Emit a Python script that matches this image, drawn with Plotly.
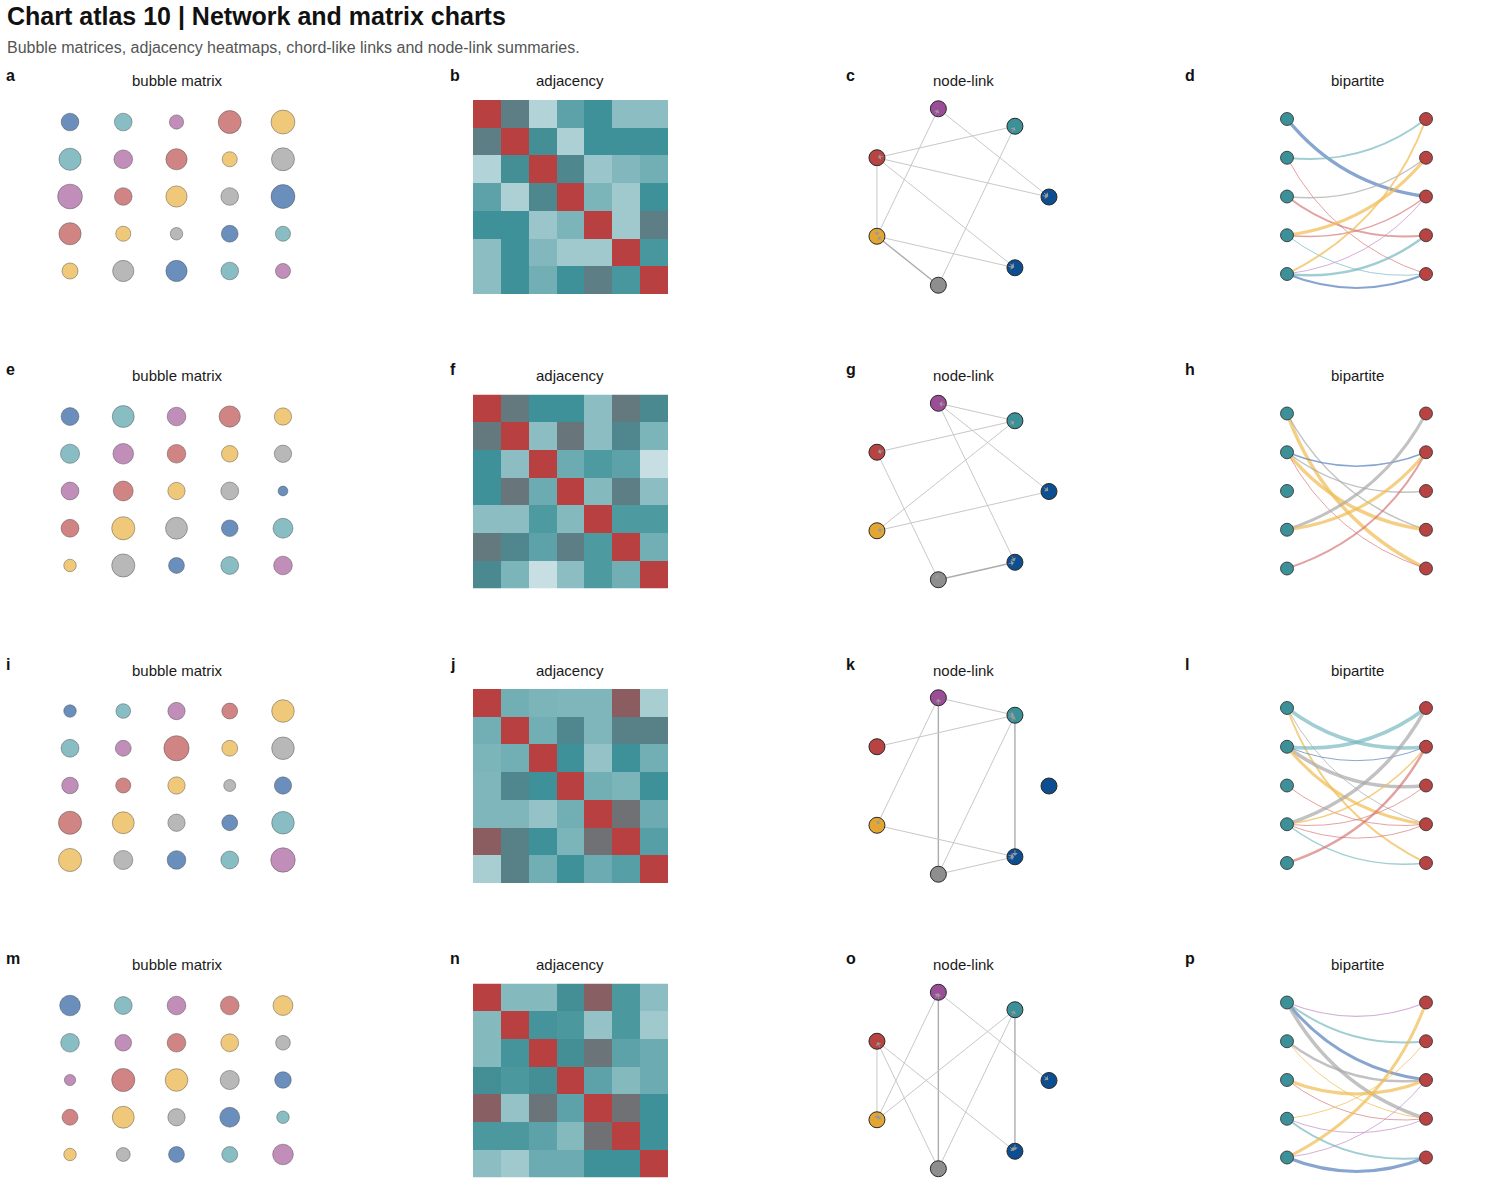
import math
import plotly.graph_objects as go

W, H = 1500, 1183
ROW_STEP = 294.5
FONT = "Liberation Sans, Arial, Helvetica, sans-serif"

# ------------------------------------------------------------------ data
title_text = "Chart atlas 10 | Network and matrix charts"
subtitle_text = "Bubble matrices, adjacency heatmaps, chord-like links and node-link summaries."
panel_letters = [["a", "b", "c", "d"], ["e", "f", "g", "h"],
                 ["i", "j", "k", "l"], ["m", "n", "o", "p"]]
panel_titles = ["bubble matrix", "adjacency", "node-link", "bipartite"]

bubble_palette = ["#6a8fbd", "#88bdc4", "#c18db9", "#d08584", "#f0c87a", "#b8b8b8"]
edge_palette = ["rgba(90,130,190,0.72)", "rgba(120,185,193,0.7)", "rgba(190,130,196,0.65)",
                "rgba(212,112,112,0.65)", "rgba(240,188,85,0.72)", "rgba(168,168,168,0.7)"]
node_palette = ["#0d4e91", "#3c9199", "#9b4e97", "#b84343", "#e3a633", "#8e8e8e", "#0d4e91"]

# bubble matrices (5x5 values, area-scaled)
bubble_a = [[0.52, 0.52, 0.34, 0.88, 0.95],
            [0.82, 0.58, 0.75, 0.38, 0.88],
            [1.02, 0.52, 0.75, 0.52, 0.95],
            [0.82, 0.38, 0.26, 0.47, 0.38],
            [0.43, 0.75, 0.75, 0.52, 0.38]]
bubble_e = [[0.53, 0.80, 0.58, 0.75, 0.50],
            [0.61, 0.71, 0.58, 0.46, 0.50],
            [0.53, 0.66, 0.50, 0.53, 0.16],
            [0.53, 0.89, 0.80, 0.46, 0.66],
            [0.26, 0.89, 0.42, 0.53, 0.58]]
bubble_i = [[0.26, 0.36, 0.50, 0.42, 0.85],
            [0.53, 0.42, 1.06, 0.42, 0.85],
            [0.46, 0.38, 0.50, 0.24, 0.50],
            [0.89, 0.80, 0.50, 0.42, 0.85],
            [0.89, 0.61, 0.58, 0.53, 1.00]]
bubble_m = [[0.71, 0.53, 0.58, 0.58, 0.66],
            [0.58, 0.46, 0.58, 0.53, 0.36],
            [0.21, 0.89, 0.85, 0.61, 0.46],
            [0.42, 0.80, 0.50, 0.66, 0.26],
            [0.26, 0.32, 0.42, 0.42, 0.71]]

# adjacency matrices (7x7, symmetric, diagonal = 1)
adj_b = [[1, 0.62, 0.12, 0.40, 0.50, 0.25, 0.25],
         [0.62, 1, 0.52, 0.14, 0.50, 0.50, 0.50],
         [0.12, 0.52, 1, 0.56, 0.20, 0.28, 0.33],
         [0.40, 0.14, 0.56, 1, 0.30, 0.18, 0.50],
         [0.50, 0.50, 0.20, 0.30, 1, 0.18, 0.62],
         [0.25, 0.50, 0.28, 0.18, 0.18, 1, 0.47],
         [0.25, 0.50, 0.33, 0.50, 0.62, 0.47, 1]]
adj_f = [[1, 0.65, 0.50, 0.50, 0.25, 0.65, 0.55],
         [0.65, 1, 0.25, 0.67, 0.25, 0.57, 0.30],
         [0.50, 0.25, 1, 0.35, 0.45, 0.40, 0.05],
         [0.50, 0.67, 0.35, 1, 0.27, 0.62, 0.25],
         [0.25, 0.25, 0.45, 0.27, 1, 0.45, 0.45],
         [0.65, 0.57, 0.40, 0.62, 0.45, 1, 0.33],
         [0.55, 0.30, 0.05, 0.25, 0.45, 0.33, 1]]
adj_j = [[1, 0.33, 0.30, 0.29, 0.29, 0.82, 0.15],
         [0.33, 1, 0.33, 0.57, 0.29, 0.60, 0.60],
         [0.30, 0.33, 1, 0.50, 0.22, 0.50, 0.33],
         [0.29, 0.57, 0.50, 1, 0.33, 0.30, 0.50],
         [0.29, 0.29, 0.22, 0.33, 1, 0.70, 0.35],
         [0.82, 0.60, 0.50, 0.30, 0.70, 1, 0.42],
         [0.15, 0.60, 0.33, 0.50, 0.35, 0.42, 1]]
adj_n = [[1, 0.27, 0.27, 0.52, 0.80, 0.46, 0.25],
         [0.27, 1, 0.48, 0.46, 0.22, 0.46, 0.18],
         [0.27, 0.48, 1, 0.52, 0.68, 0.40, 0.35],
         [0.52, 0.46, 0.52, 1, 0.40, 0.27, 0.35],
         [0.80, 0.22, 0.68, 0.40, 1, 0.70, 0.50],
         [0.46, 0.46, 0.40, 0.27, 0.70, 1, 0.50],
         [0.25, 0.18, 0.35, 0.35, 0.50, 0.50, 1]]
adj_colorscale = [[0.0, "#d6e8ea"], [0.5, "#3f9199"], [1.0, "#b84040"]]

# node-link graphs: 7 nodes on a circle, edges (source, target, weight)
n_nodes = 7
edges_c = [(4, 2, 1), (1, 3, 1), (2, 0, 1), (3, 0, 1), (3, 6, 1), (3, 4, 1), (4, 6, 1), (5, 4, 2), (5, 1, 1)]
edges_g = [(1, 2, 1), (1, 3, 1), (4, 1, 1), (2, 0, 1), (2, 6, 1), (3, 5, 1), (0, 4, 1), (5, 6, 2)]
edges_k = [(2, 1, 1), (2, 4, 1), (5, 2, 2), (3, 1, 1), (5, 1, 1), (1, 6, 2), (4, 6, 1), (5, 6, 1)]
edges_o = [(4, 2, 1), (5, 2, 2), (2, 0, 1), (1, 4, 1), (5, 1, 1), (1, 6, 2), (3, 4, 1), (5, 3, 1), (3, 6, 1)]

# bipartite graphs: (left node, right node, colour index, weight)
bip_d = [(0, 2, 0, 3.5), (1, 0, 1, 2), (1, 4, 3, 1), (2, 1, 5, 1.5), (2, 3, 3, 2), (3, 1, 4, 3),
         (3, 2, 3, 1.5), (3, 4, 1, 1), (4, 0, 4, 2), (4, 2, 2, 1), (4, 3, 1, 2.5), (4, 4, 0, 2)]
bip_h = [(0, 4, 4, 3.5), (0, 3, 5, 1.5), (1, 1, 0, 1.5), (1, 2, 5, 1.5), (1, 3, 4, 3.5),
         (1, 4, 3, 1), (3, 0, 5, 3), (3, 1, 4, 3), (4, 1, 3, 2)]
bip_l = [(0, 1, 1, 3.5), (0, 3, 5, 1), (0, 4, 4, 2), (1, 0, 1, 3.5), (1, 1, 0, 1), (1, 2, 5, 3.5),
         (1, 3, 4, 3), (2, 3, 3, 1), (3, 0, 5, 3.5), (3, 1, 4, 1.5), (3, 2, 3, 1), (3, 3, 3, 1),
         (3, 4, 1, 1.5), (4, 1, 3, 2.5)]
bip_p = [(0, 0, 2, 1.2), (0, 1, 1, 2), (0, 2, 0, 3), (0, 3, 5, 3.5), (1, 2, 5, 2.5), (1, 3, 4, 1),
         (2, 2, 4, 3), (2, 3, 3, 1), (3, 1, 4, 1), (3, 3, 2, 1), (3, 4, 1, 2), (4, 0, 4, 3),
         (4, 2, 2, 1), (4, 4, 0, 3)]
n_bip = 5

bubbles = [bubble_a, bubble_e, bubble_i, bubble_m]
adjs = [adj_b, adj_f, adj_j, adj_n]
graphs = [edges_c, edges_g, edges_k, edges_o]
bips = [bip_d, bip_h, bip_l, bip_p]

# ------------------------------------------------------------------ build
fig = go.Figure()
layout = {}
annotations = []
shapes = []


def ax_names(n):
    s = "" if n == 1 else str(n)
    return "x" + s, "y" + s, "xaxis" + s, "yaxis" + s


def add_axes(n, xpx, ypx, xr, yr):
    xr_, yr_, xa, ya = ax_names(n)
    layout[xa] = dict(domain=[max(0, xpx[0] / W), min(1, xpx[1] / W)], range=xr, visible=False,
                      fixedrange=True, anchor=yr_)
    layout[ya] = dict(domain=[max(0, 1 - ypx[1] / H), min(1, 1 - ypx[0] / H)], range=yr, visible=False,
                      fixedrange=True, anchor=xr_)
    return xr_, yr_


def text(x_px, y_px, t, size, color="#111111", xanchor="left"):
    annotations.append(dict(x=x_px / W, y=1 - y_px / H, xref="paper", yref="paper", text=t,
                            showarrow=False, xanchor=xanchor, yanchor="middle",
                            font=dict(family=FONT, size=size, color=color)))


text(5, 16, "<b>" + title_text + "</b>", 25, "#111111")
text(5, 47, subtitle_text, 16, "#555555")

col_center = [177, 570, 963, 1357]
col_letter_x = [4, 448, 844, 1183]

# node-link geometry
angles = [2 * math.pi * k / n_nodes for k in range(n_nodes)]
node_x = [math.cos(a) for a in angles]
node_y = [math.sin(a) for a in angles]

BIP_SX, BIP_SY, RAD = 139.0, 38.75, 0.2
BIP_TOP, BIP_BOT = -1.0, 4.6
BUBBLE_SCALE = 24.5  # px diameter at value 1

axis_n = 0
for r in range(4):
    dy = r * ROW_STEP
    for c in range(4):
        text(col_letter_x[c], 75 + dy, "<b>" + panel_letters[r][c] + "</b>", 16, "#111111")
        text(col_center[c], 81 + dy, panel_titles[c], 15, "#1a1a1a", xanchor="center")

    # --- bubble matrix
    axis_n += 1
    xr, yr = add_axes(axis_n, (43.4, 309.6), (103.4 + dy, 289.6 + dy), [-0.5, 4.5], [4.5, -0.5])
    vals = bubbles[r]
    xs, ys, ss, cs = [], [], [], []
    for i in range(5):
        for j in range(5):
            xs.append(j)
            ys.append(i)
            ss.append(vals[i][j])
            cs.append(bubble_palette[(i + j) % 6])
    fig.add_trace(go.Scatter(x=xs, y=ys, mode="markers", xaxis=xr, yaxis=yr, hoverinfo="skip",
                             marker=dict(size=ss, sizemode="area",
                                         sizeref=2.0 / (BUBBLE_SCALE ** 2), color=cs,
                                         opacity=1,
                                         line=dict(color="rgba(70,70,70,0.55)", width=0.8))))

    # --- adjacency heatmap
    axis_n += 1
    xr, yr = add_axes(axis_n, (473, 668), (100 + dy, 294 + dy), [-0.5, 6.5], [6.5, -0.5])
    fig.add_trace(go.Heatmap(z=adjs[r], zmin=0, zmax=1, colorscale=adj_colorscale,
                             showscale=False, xaxis=xr, yaxis=yr, hoverinfo="skip", xgap=0, ygap=0))

    # --- node-link
    axis_n += 1
    R = 100 / 90.5
    xr, yr = add_axes(axis_n, (858.5, 1058.5), (97 + dy, 297 + dy), [-R, R], [-R, R])
    for (s, t, w) in graphs[r]:
        fig.add_trace(go.Scatter(x=[node_x[s], node_x[t]], y=[node_y[s], node_y[t]], mode="lines",
                                 xaxis=xr, yaxis=yr, hoverinfo="skip",
                                 line=dict(color="#c8c8c8" if w == 1 else "#acacac",
                                           width=1.0 if w == 1 else 1.4)))
    fig.add_trace(go.Scatter(x=node_x, y=node_y, mode="markers", xaxis=xr, yaxis=yr, hoverinfo="skip",
                             marker=dict(size=16, color=node_palette,
                                         line=dict(color="#2a2a2a", width=1))))
    for (s, t, w) in graphs[r]:
        vx, vy = node_x[s] - node_x[t], node_y[s] - node_y[t]
        L = math.hypot(vx, vy)
        k = 0.09 / L
        annotations.append(dict(x=node_x[t], y=node_y[t], ax=node_x[t] + vx * k, ay=node_y[t] + vy * k,
                                xref=xr, yref=yr, axref=xr, ayref=yr, text="", showarrow=True,
                                arrowhead=1, arrowsize=1.2, arrowwidth=0.8, arrowcolor="#9a9a9a",
                                standoff=1, startstandoff=0))

    # --- bipartite
    axis_n += 1
    xr, yr = add_axes(axis_n, (1287 - 0.3 * BIP_SX, 1426 + 0.3 * BIP_SX),
                      (119 + BIP_TOP * BIP_SY + dy, 119 + BIP_BOT * BIP_SY + dy),
                      [-0.3, 1.3], [BIP_BOT, BIP_TOP])
    for (a, b, ci, w) in bips[r]:
        X0, Y0 = 0.0, a * BIP_SY
        X1, Y1 = BIP_SX, b * BIP_SY
        mx, my = (X0 + X1) / 2, (Y0 + Y1) / 2
        ddx, ddy = X1 - X0, Y1 - Y0
        cx, cy = mx - RAD * ddy, my + RAD * ddx
        path = "M {:.4f},{:.4f} Q {:.4f},{:.4f} {:.4f},{:.4f}".format(
            0.0, float(a), cx / BIP_SX, cy / BIP_SY, 1.0, float(b))
        shapes.append(dict(type="path", path=path, xref=xr, yref=yr, layer="below",
                           line=dict(color=edge_palette[ci], width=w)))
    fig.add_trace(go.Scatter(x=[0] * n_bip + [1] * n_bip, y=list(range(n_bip)) * 2, mode="markers",
                             xaxis=xr, yaxis=yr, hoverinfo="skip",
                             marker=dict(size=13, color=["#3c9199"] * n_bip + ["#b84343"] * n_bip,
                                         line=dict(color="#2a2a2a", width=0.8))))

fig.update_layout(width=W, height=H, margin=dict(l=0, r=0, t=0, b=0), showlegend=False,
                  paper_bgcolor="white", plot_bgcolor="rgba(0,0,0,0)",
                  annotations=annotations, shapes=shapes, font=dict(family=FONT), **layout)
fig.write_html("out.html")
